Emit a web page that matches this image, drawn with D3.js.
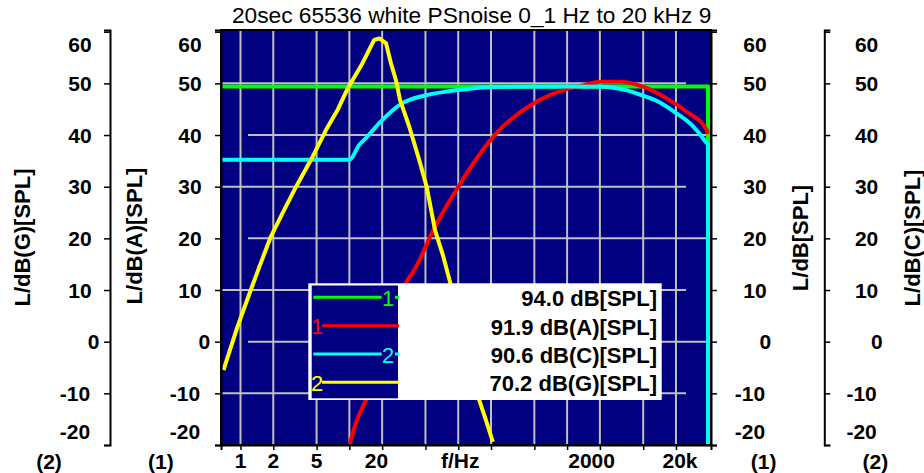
<!DOCTYPE html>
<html>
<head>
<meta charset="utf-8">
<script src="https://cdn.jsdelivr.net/npm/d3@7"></script>
<style>
  body { margin: 0; background: #fff; }
  svg { font-family: "Liberation Sans", Arial, sans-serif; }
</style>
</head>
<body>
<svg id="chart" width="924" height="473"></svg>
<script>
// data (f in Hz, level in dB)
var greenF = [0.662, 19700, 19700];
var greenDb = [49.4, 49.4, -25];

var redF = [10, 11.5, 14.2, 33.6, 40.1, 59.0, 100, 210, 489, 923, 1400, 2005, 3060, 4977, 8220, 12540, 19150, 19700];
var redDb = [-20, -15.7, -11.3, 11.6, 14.1, 21.6, 30.0, 39.7, 46.1, 48.7, 49.6, 50.3, 50.3, 49.35, 47.1, 44.5, 41.0, 40.2];

var cyanF = [0.662, 10, 12.35, 14.2, 18.8, 29.2, 50.6, 77.2, 111, 200, 1000, 2094, 3456, 4877, 6982, 9940, 14020, 18720, 19700, 19720];
var cyanDb = [35.2, 35.2, 38.1, 39.4, 42.3, 45.9, 47.7, 48.4, 48.8, 49.3, 49.4, 49.35, 48.7, 47.7, 46.4, 44.3, 41.9, 38.7, 38.0, -25];

var yellowF = [0.698, 0.939, 1.243, 1.535, 1.897, 2.52, 3.24, 4.60, 6.11, 7.82, 9.64, 10.7, 13.2, 16.9, 18.8, 21.7, 24.1, 26.8, 29.2, 35.5, 43.8, 51.3, 61.2, 72.9, 84.0, 156, 179.6, 208];
var yellowDb = [-5.5, 2.9, 10.0, 15.2, 20.3, 25.5, 30.0, 35.8, 41.0, 44.9, 49.0, 50.6, 53.9, 58.4, 58.7, 57.8, 53.9, 50.6, 46.8, 41.6, 35.2, 30.0, 21.6, 16.5, 11.6, -11.3, -15.2, -19.4];

var gridF = [1, 2, 5, 10, 20, 50, 100, 200, 500, 1000, 2000, 5000, 10000];
var xLabelF = [1, 2, 5, 20, 100, 2000, 20000];
var xLabelText = ['1', '2', '5', '20', 'f/Hz', '2000', '20k'];
var yTicks = [-20, -10, 0, 10, 20, 30, 40, 50, 60];

var legendNames = ['1', '1', '2', '2'];
var legendValues = ['94.0 dB[SPL]', '91.9 dB(A)[SPL]', '90.6 dB(C)[SPL]', '70.2 dB(G)[SPL]'];
var titleText = '20sec 65536 white PSnoise 0_1 Hz to 20 kHz 94 dB';

// plot area
var plot = {left: 221, top: 30, width: 490, height: 415};
var navy = '#000080', grid = '#c0c0c0';

var x = d3.scaleLog().domain([0.662, 20980]).range([0, plot.width]);
var y = d3.scaleLinear().domain([-20, 60.33]).range([plot.height, 0]);

var svg = d3.select('#chart');

// title, clipped at the right edge of the plot
svg.append('clipPath').attr('id', 'titleClip')
  .append('rect').attr('x', 0).attr('y', 0).attr('width', plot.left + plot.width).attr('height', plot.top);
svg.append('text')
  .attr('clip-path', 'url(#titleClip)')
  .attr('x', 232).attr('y', 23.3)
  .style('font-size', '22.7px')
  .text(titleText);

var g = svg.append('g')
  .attr('transform', 'translate(' + plot.left + ',' + plot.top + ')');

g.append('rect')
  .attr('width', plot.width).attr('height', plot.height)
  .attr('fill', navy);

// grid
g.selectAll('.vgrid').data(gridF).enter().append('line')
  .attr('class', 'vgrid')
  .attr('x1', function(d) { return x(d); }).attr('x2', function(d) { return x(d); })
  .attr('y1', 0).attr('y2', plot.height)
  .attr('stroke', grid).attr('stroke-width', 2);

g.selectAll('.hgrid').data(yTicks.filter(function(d) { return d > -20 && d < 60; })).enter().append('line')
  .attr('class', 'hgrid')
  .attr('x1', function(d) { return Math.abs(d % 20) === 10 ? 0 : 27; })
  .attr('x2', function(d) { return Math.abs(d % 20) === 10 ? 465 : plot.width; })
  .attr('y1', function(d) { return y(d); }).attr('y2', function(d) { return y(d); })
  .attr('stroke', grid).attr('stroke-width', 2);

// curves
g.append('clipPath').attr('id', 'plotClip')
  .append('rect').attr('width', plot.width).attr('height', plot.height);

var series = [
  {f: greenF, db: greenDb, color: '#00ff00', curve: d3.curveLinear},
  {f: redF, db: redDb, color: '#ff0000', curve: d3.curveMonotoneX},
  {f: cyanF, db: cyanDb, color: '#00ffff', curve: d3.curveMonotoneX},
  {f: yellowF, db: yellowDb, color: '#ffff00', curve: d3.curveLinear}
];

g.append('g').attr('clip-path', 'url(#plotClip)')
  .selectAll('path').data(series).enter().append('path')
  .attr('d', function(s) {
    return d3.line()
      .x(function(d) { return x(d[0]); })
      .y(function(d) { return y(d[1]); })
      .curve(s.curve)(d3.zip(s.f, s.db));
  })
  .attr('fill', 'none')
  .attr('stroke', function(s) { return s.color; })
  .attr('stroke-width', 4)
  .attr('stroke-linejoin', 'round');

// frame
g.append('rect')
  .attr('width', plot.width).attr('height', plot.height)
  .attr('fill', 'none').attr('stroke', '#000').attr('stroke-width', 2);

// y axes
function styleY(sel, anchorX, zeroDx) {
  sel.select('.domain').attr('stroke-width', 2);
  sel.selectAll('.tick line').attr('stroke-width', 1.5);
  sel.selectAll('.tick text')
    .attr('x', anchorX)
    .attr('text-anchor', 'end')
    .attr('dy', null)
    .attr('y', function(d) { return d === 60 ? 20 : (d === -20 ? -7 : 7); })
    .attr('dx', function(d) { return d === 0 ? zeroDx : (d < 0 ? -1.5 : 0); })
    .style('font-size', '21px')
    .style('font-weight', 'bold')
    .attr('font-family', null);
}

var plainNum = function(d) { return String(d); };
var yAxisL = d3.axisLeft(y).tickValues(yTicks).tickSize(6).tickSizeOuter(6).tickFormat(plainNum);
var yAxisR = d3.axisRight(y).tickValues(yTicks).tickSize(6).tickSizeOuter(6).tickFormat(plainNum);

svg.append('g').attr('transform', 'translate(110,' + plot.top + ')')
  .call(yAxisL).call(styleY, -18.3, 7.6);
g.append('g').call(yAxisL).call(styleY, -19.3, 8.5);
g.append('g').attr('transform', 'translate(' + plot.width + ',0)')
  .call(yAxisR).call(styleY, 55.7, 4.4);
svg.append('g').attr('transform', 'translate(824.3,' + plot.top + ')')
  .call(yAxisR).call(styleY, 54, 4.4);

// x axis
var xAxis = d3.axisBottom(x).tickValues(gridF).tickSize(5).tickSizeOuter(5).tickFormat('');
var xg = g.append('g').attr('transform', 'translate(0,' + plot.height + ')').call(xAxis);
xg.select('.domain').attr('stroke-width', 2);
xg.selectAll('.tick line').attr('stroke-width', 1.5);

var xLabelDx = {'20': -5.6, 'f/Hz': 2, '2000': -8.3, '20k': -28.7};
g.selectAll('.xlabel').data(xLabelF).enter().append('text')
  .attr('class', 'xlabel')
  .attr('x', function(d, i) { return x(d) + (xLabelDx[xLabelText[i]] || 0); })
  .attr('y', 468 - plot.top)
  .attr('text-anchor', 'middle')
  .style('font-size', '21px').style('font-weight', 'bold')
  .text(function(d, i) { return xLabelText[i]; });

// axis titles
var axisTitles = [
  {t: 'L/dB(G)[SPL]', x: 30, y: 237.5},
  {t: 'L/dB(A)[SPL]', x: 141.7, y: 236},
  {t: 'L/dB[SPL]', x: 808.3, y: 238},
  {t: 'L/dB(C)[SPL]', x: 920, y: 238}
];
svg.selectAll('.atitle').data(axisTitles).enter().append('text')
  .attr('class', 'atitle')
  .attr('transform', function(d) { return 'translate(' + d.x + ',' + d.y + ') rotate(-90)'; })
  .attr('text-anchor', 'middle')
  .style('font-size', '22px').style('font-weight', 'bold')
  .text(function(d) { return d.t; });

var axisNames = [{t: '(2)', x: 49}, {t: '(1)', x: 160.8}, {t: '(1)', x: 763.7}, {t: '(2)', x: 875.3}];
svg.selectAll('.aname').data(axisNames).enter().append('text')
  .attr('class', 'aname')
  .attr('x', function(d) { return d.x; }).attr('y', 468.5)
  .attr('text-anchor', 'middle')
  .style('font-size', '21px').style('font-weight', 'bold')
  .text(function(d) { return d.t; });

// legend
var lg = svg.append('g');
lg.append('rect').attr('x', 308.3).attr('y', 283.3).attr('width', 353.4).attr('height', 116.7).attr('fill', '#fff');
lg.append('rect').attr('x', 311.7).attr('y', 285.5).attr('width', 86.3).attr('height', 112.8).attr('fill', navy);

var rowY = [297.3, 325.7, 354, 382.3];
var rows = lg.selectAll('.lrow').data(series).enter().append('g').attr('class', 'lrow');
rows.each(function(s, i) {
  var r = d3.select(this), yy = rowY[i];
  if (i % 2 === 0) {
    // line, then the number
    r.append('line').attr('x1', 313.3).attr('x2', 381.7).attr('y1', yy).attr('y2', yy)
      .attr('stroke', s.color).attr('stroke-width', 3);
    r.append('line').attr('x1', 395).attr('x2', 399).attr('y1', yy).attr('y2', yy)
      .attr('stroke', s.color).attr('stroke-width', 3);
    r.append('text').attr('x', 388).attr('y', yy + 8.5).attr('text-anchor', 'middle')
      .attr('fill', s.color).style('font-size', '22px').text(legendNames[i]);
  } else {
    // number, then the line
    r.append('text').attr('x', 317).attr('y', yy + 8.5).attr('text-anchor', 'middle')
      .attr('fill', s.color).style('font-size', '22px').text(legendNames[i]);
    r.append('line').attr('x1', 322).attr('x2', 399).attr('y1', yy).attr('y2', yy)
      .attr('stroke', s.color).attr('stroke-width', 3);
  }
  r.append('text').attr('x', 657).attr('y', yy + 9).attr('text-anchor', 'end')
    .style('font-size', '22px').style('font-weight', 'bold')
    .text(legendValues[i]);
});
</script>
</body>
</html>
